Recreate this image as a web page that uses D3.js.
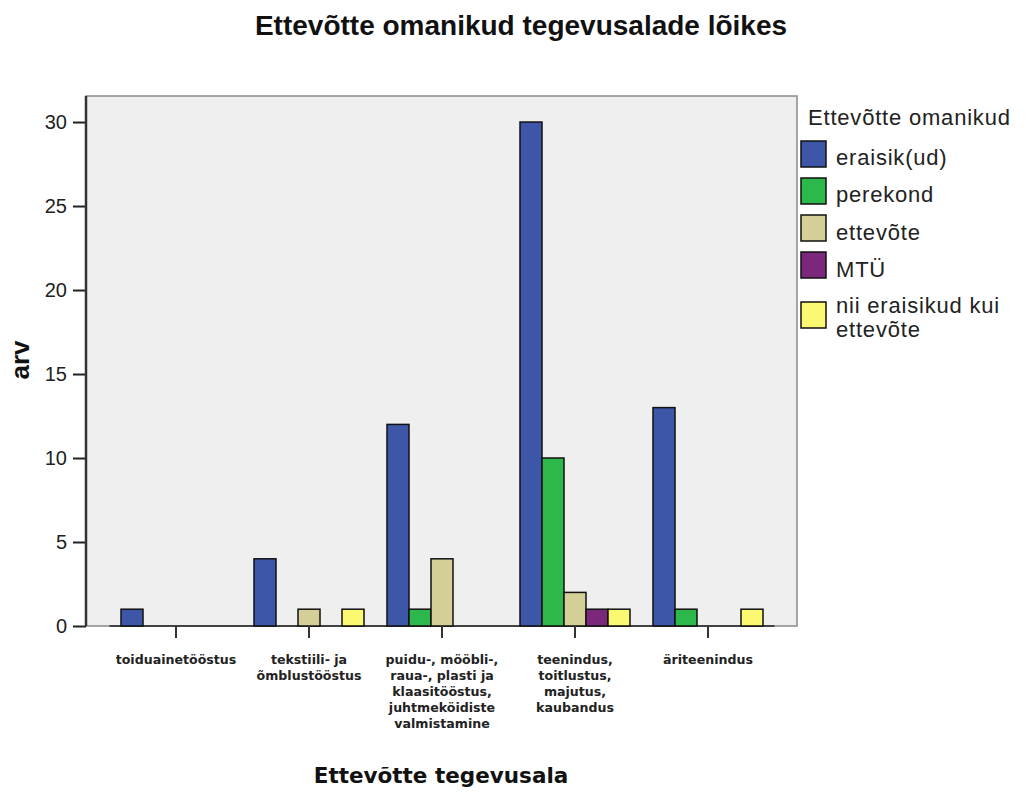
<!DOCTYPE html>
<html>
<head>
<meta charset="utf-8">
<script src="https://cdn.jsdelivr.net/npm/d3@7"></script>
<style>
  body { margin: 0; background: #fff; }
  svg { display: block; }
</style>
</head>
<body>
<div id="chart"></div>
<script>
// data
const categories = [
  ["toiduainetööstus"],
  ["tekstiili- ja", "õmblustööstus"],
  ["puidu-, mööbli-,", "raua-, plasti ja", "klaasitööstus,", "juhtmeköidiste", "valmistamine"],
  ["teenindus,", "toitlustus,", "majutus,", "kaubandus"],
  ["äriteenindus"]
];
const owners = ["eraisik(ud)", "perekond", "ettevõte", "MTÜ", "nii eraisikud kui ettevõte"];
const ownerColors = ["#3d56a8", "#2db84b", "#d4cf97", "#7b287c", "#fbf872"];
const eraisik  = [1, 4, 12, 30, 13];
const perekond = [0, 0, 1, 10, 1];
const ettevote = [0, 1, 4, 2, 0];
const mtu      = [0, 0, 0, 1, 0];
const mõlemad  = [0, 1, 0, 1, 1];
const yTicks = [0, 5, 10, 15, 20, 25, 30];

const series = [eraisik, perekond, ettevote, mtu, mõlemad];

const width = 1028, height = 792;
const plot = { left: 86, right: 797, top: 96, bottom: 626 };

const svg = d3.select("#chart").append("svg")
  .attr("width", width)
  .attr("height", height);

// plot background
svg.append("rect")
  .attr("x", plot.left).attr("y", plot.top)
  .attr("width", plot.right - plot.left).attr("height", plot.bottom - plot.top)
  .attr("fill", "#efefef")
  .attr("stroke", "#8a8a8a")
  .attr("stroke-width", 1.5);

const yScale = d3.scaleLinear()
  .domain([0, 31.55])
  .range([plot.bottom, plot.top]);

const xScale = d3.scaleBand()
  .domain(d3.range(categories.length))
  .range([109.5, 774.5]);

const xInner = d3.scaleBand()
  .domain(d3.range(owners.length))
  .range([0, 110]);

// rows for bars
const rows = [];
series.forEach((vals, s) => {
  vals.forEach((v, c) => { rows.push({ c: c, s: s, v: v }); });
});

// baseline where the bars stand
svg.append("line")
  .attr("x1", xScale.range()[0]).attr("x2", xScale.range()[1])
  .attr("y1", yScale(0)).attr("y2", yScale(0))
  .attr("stroke", "#222").attr("stroke-width", 1.5);

svg.append("g").selectAll("rect")
  .data(rows.filter(d => d.v > 0))
  .enter()
  .append("rect")
    .attr("x", d => xScale(d.c) + (xScale.bandwidth() - 110) / 2 + xInner(d.s))
    .attr("y", d => yScale(d.v))
    .attr("width", xInner.bandwidth())
    .attr("height", d => yScale(0) - yScale(d.v))
    .attr("fill", d => ownerColors[d.s])
    .attr("stroke", "#111")
    .attr("stroke-width", 1.5);

// y axis
const yAxis = svg.append("g")
  .attr("transform", "translate(" + plot.left + ",0)")
  .call(d3.axisLeft(yScale).tickValues(yTicks).tickSize(13).tickPadding(6));
yAxis.select(".domain").remove();
yAxis.selectAll(".tick line").attr("stroke", "#222").attr("stroke-width", 2);
yAxis.selectAll(".tick text")
  .attr("font-family", "Liberation Sans, Arial, sans-serif")
  .attr("font-size", "20px")
  .attr("fill", "#222");
svg.append("line")
  .attr("x1", plot.left).attr("x2", plot.left)
  .attr("y1", plot.top).attr("y2", plot.bottom)
  .attr("stroke", "#333").attr("stroke-width", 2.5);

// x axis ticks
const xAxis = svg.append("g")
  .attr("transform", "translate(0," + plot.bottom + ")")
  .call(d3.axisBottom(xScale).tickSize(12).tickFormat(""));
xAxis.select(".domain").remove();
xAxis.selectAll(".tick line").attr("stroke", "#333").attr("stroke-width", 2);

// category labels, multi-line
categories.forEach((lines, i) => {
  const t = svg.append("text")
    .attr("text-anchor", "middle")
    .attr("font-family", "DejaVu Sans, sans-serif")
    .attr("font-weight", "bold")
    .attr("font-size", "12.6px")
    .attr("fill", "#222");
  lines.forEach((ln, j) => {
    t.append("tspan")
      .attr("x", xScale(i) + xScale.bandwidth() / 2)
      .attr("y", 664 + j * 16)
      .text(ln);
  });
});

// titles
svg.append("text")
  .attr("x", 521).attr("y", 35)
  .attr("text-anchor", "middle")
  .attr("font-family", "Liberation Sans, Arial, sans-serif")
  .attr("font-weight", "bold")
  .attr("font-size", "28px")
  .attr("fill", "#111")
  .text("Ettevõtte omanikud tegevusalade lõikes");

svg.append("text")
  .attr("x", 441).attr("y", 783)
  .attr("text-anchor", "middle")
  .attr("font-family", "DejaVu Sans, sans-serif")
  .attr("font-weight", "bold")
  .attr("font-size", "21.5px")
  .attr("fill", "#111")
  .text("Ettevõtte tegevusala");

svg.append("text")
  .attr("transform", "translate(29,360) rotate(-90)")
  .attr("text-anchor", "middle")
  .attr("font-family", "Liberation Sans, Arial, sans-serif")
  .attr("font-weight", "bold")
  .attr("font-size", "26px")
  .attr("fill", "#111")
  .text("arv");

// legend
const legend = svg.append("g");
legend.append("text")
  .attr("x", 808).attr("y", 125)
  .attr("font-family", "Liberation Sans, Arial, sans-serif")
  .attr("font-size", "22px")
  .attr("letter-spacing", "0.8px")
  .attr("fill", "#222")
  .text("Ettevõtte omanikud");

const swatchY = [141, 178, 215, 252, 302];
const labelY = [165, 202, 240, 277, 313];
owners.forEach((name, i) => {
  legend.append("rect")
    .attr("x", 801).attr("y", swatchY[i])
    .attr("width", 25).attr("height", 26)
    .attr("fill", ownerColors[i])
    .attr("stroke", "#111").attr("stroke-width", 1.5);
  const words = name === "nii eraisikud kui ettevõte" ? ["nii eraisikud kui", "ettevõte"] : [name];
  const t = legend.append("text")
    .attr("font-family", "Liberation Sans, Arial, sans-serif")
    .attr("font-size", "22px")
    .attr("letter-spacing", "0.8px")
    .attr("fill", "#222");
  words.forEach((w, j) => {
    t.append("tspan")
      .attr("x", 836)
      .attr("y", labelY[i] + j * 24)
      .text(w);
  });
});
</script>
</body>
</html>
